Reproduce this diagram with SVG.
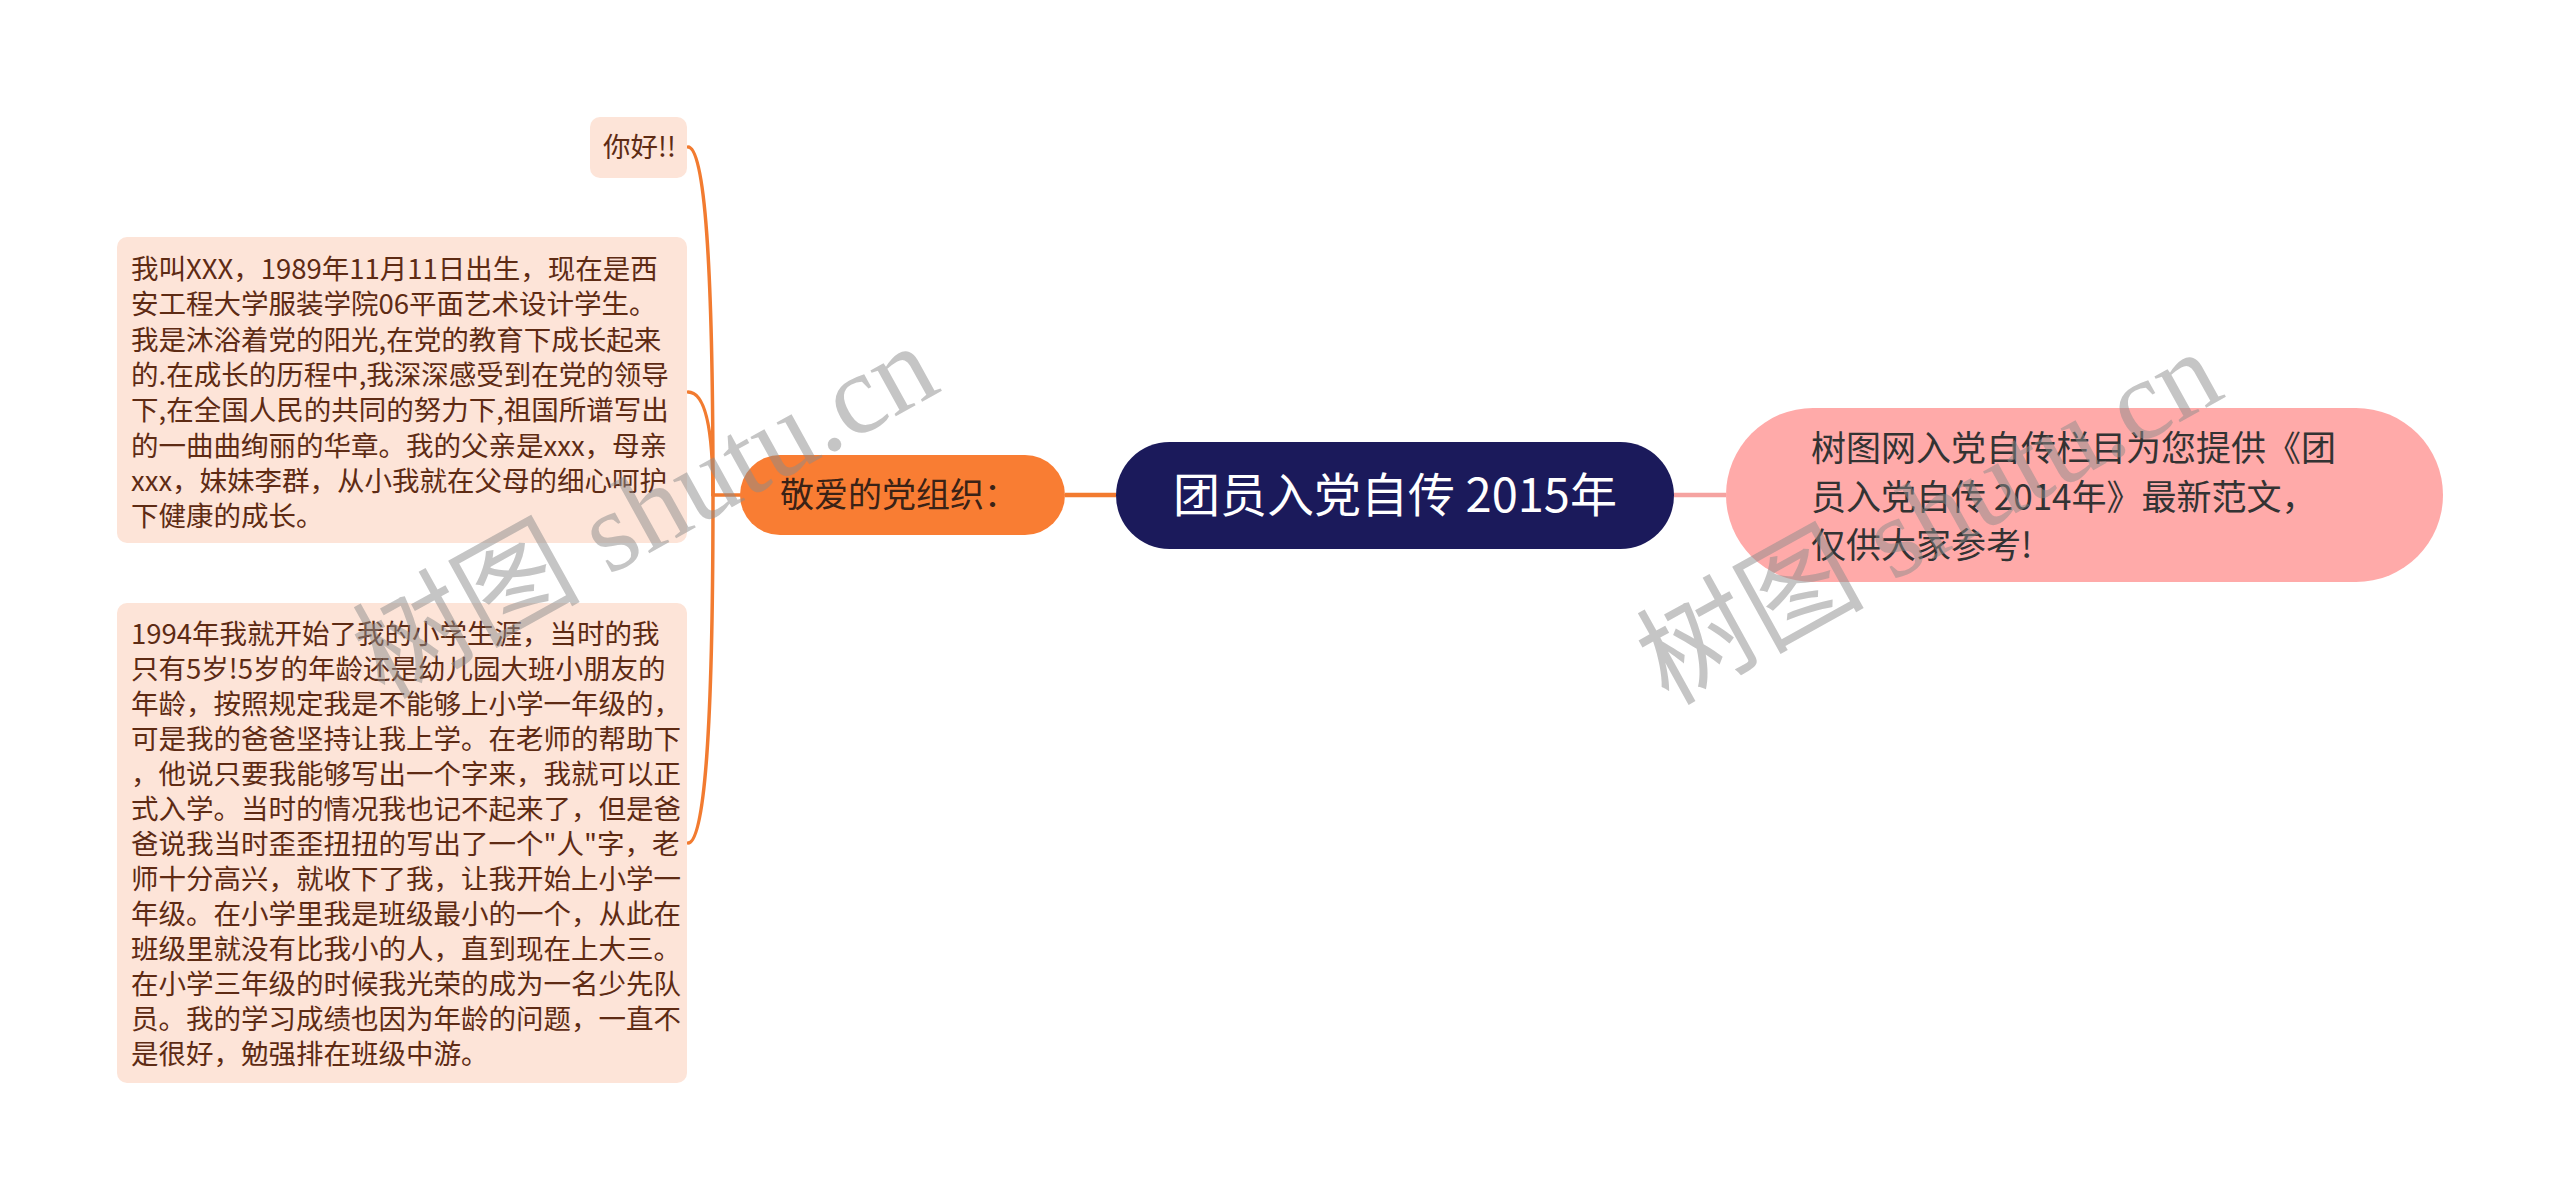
<svg xmlns="http://www.w3.org/2000/svg" width="2560" height="1201" viewBox="0 0 2560 1201">
<style>
.cjk{font-family:"Noto Sans CJK SC","Noto Sans",sans-serif}
.box{fill:#fde4d8}
.bt{font-size:27.5px;fill:#5e2b14}
.con{fill:none;stroke:#f27b30;stroke-width:3.5;stroke-linecap:round}
.wm{font-family:"Liberation Serif","Noto Sans CJK SC",serif;font-size:114px;fill:#8c8c8c;fill-opacity:0.5}
</style>
<rect width="2560" height="1201" fill="#ffffff"/>
<g id="connectors">
<path class="con" d="M740,495 L713,495"/>
<path class="con" d="M688,147 Q713,147 713,495"/>
<path class="con" d="M688,392 Q713,392 713,495"/>
<path class="con" d="M688,843 Q713,843 713,495"/>
<path d="M1065,495 L1116,495" fill="none" stroke="#f27b30" stroke-width="4.5"/>
<path d="M1674,495 L1726,495" fill="none" stroke="#f5a3a1" stroke-width="4.5"/>
</g>
<g id="main">
<rect x="1116" y="442" width="558" height="107" rx="53.5" fill="#1b1a5b"/>
<text class="cjk" x="1395" y="512" font-size="47" fill="#ffffff" text-anchor="middle">团员入党自传 2015年</text>
</g>
<g id="branch-left">
<rect x="740" y="455" width="325" height="80" rx="40" fill="#f97d33"/>
<text class="cjk" x="780" y="507" font-size="34" fill="#3a2216">敬爱的党组织：</text>
</g>
<g id="branch-right">
<rect x="1726" y="408" width="717" height="174" rx="87" fill="#ffaaa9"/>
<text class="cjk" font-size="35" fill="#333333">
<tspan x="1811" y="461">树图网入党自传栏目为您提供《团</tspan>
<tspan x="1811" y="509.5">员入党自传 2014年》最新范文，</tspan>
<tspan x="1811" y="558">仅供大家参考!</tspan>
</text>
</g>
<g id="leaf-hello">
<rect class="box" x="590" y="117" width="97" height="61" rx="10"/>
<text class="cjk bt" x="603" y="157">你好!!</text>
</g>
<g id="leaf-1">
<rect class="box" x="117" y="237" width="570" height="306" rx="10"/>
<text class="cjk bt">
<tspan x="131" y="279">我叫XXX，1989年11月11日出生，现在是西</tspan>
<tspan x="131" y="314.3">安工程大学服装学院06平面艺术设计学生。</tspan>
<tspan x="131" y="349.6">我是沐浴着党的阳光,在党的教育下成长起来</tspan>
<tspan x="131" y="384.9">的.在成长的历程中,我深深感受到在党的领导</tspan>
<tspan x="131" y="420.2">下,在全国人民的共同的努力下,祖国所谱写出</tspan>
<tspan x="131" y="455.5">的一曲曲绚丽的华章。我的父亲是xxx，母亲</tspan>
<tspan x="131" y="490.8">xxx，妹妹李群，从小我就在父母的细心呵护</tspan>
<tspan x="131" y="526.1">下健康的成长。</tspan>
</text>
</g>
<g id="leaf-2">
<rect class="box" x="117" y="603" width="570" height="480" rx="10"/>
<text class="cjk bt">
<tspan x="131" y="644">1994年我就开始了我的小学生涯，当时的我</tspan>
<tspan x="131" y="679">只有5岁!5岁的年龄还是幼儿园大班小朋友的</tspan>
<tspan x="131" y="714">年龄，按照规定我是不能够上小学一年级的，</tspan>
<tspan x="131" y="749">可是我的爸爸坚持让我上学。在老师的帮助下</tspan>
<tspan x="131" y="784">，他说只要我能够写出一个字来，我就可以正</tspan>
<tspan x="131" y="819">式入学。当时的情况我也记不起来了，但是爸</tspan>
<tspan x="131" y="854">爸说我当时歪歪扭扭的写出了一个"人"字，老</tspan>
<tspan x="131" y="889">师十分高兴，就收下了我，让我开始上小学一</tspan>
<tspan x="131" y="924">年级。在小学里我是班级最小的一个，从此在</tspan>
<tspan x="131" y="959">班级里就没有比我小的人，直到现在上大三。</tspan>
<tspan x="131" y="994">在小学三年级的时候我光荣的成为一名少先队</tspan>
<tspan x="131" y="1029">员。我的学习成绩也因为年龄的问题，一直不</tspan>
<tspan x="131" y="1064">是很好，勉强排在班级中游。</tspan>
</text>
</g>
<g id="watermarks">
<text class="wm" transform="translate(384,700) rotate(-29)">树图 shutu.cn</text>
<text class="wm" transform="translate(1668,706) rotate(-29)">树图 shutu.cn</text>
</g>
</svg>
